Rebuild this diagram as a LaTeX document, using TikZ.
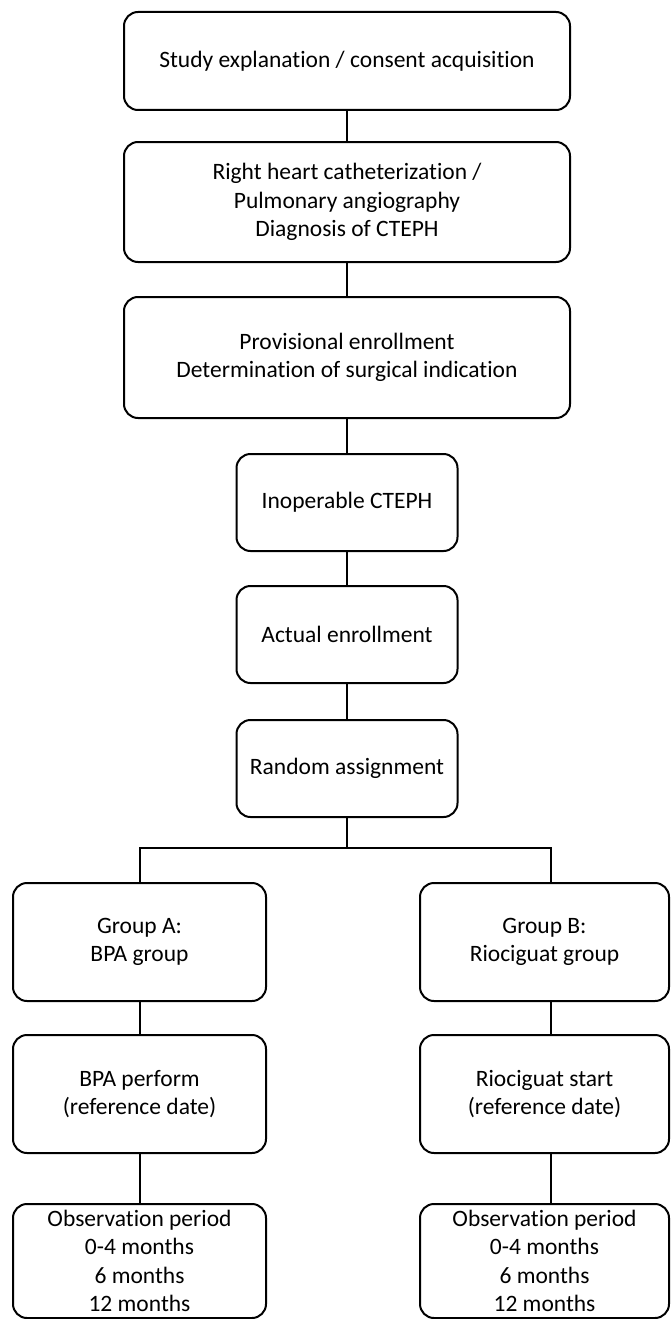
\documentclass[tikz,border=0pt]{standalone}
\usepackage{fontspec}
\setmainfont{Carlito}[RawFeature={-liga;-dlig}]
\begin{document}
\begin{tikzpicture}[x=1pt,y=-1pt,
  box/.style={draw=black, line width=2pt, rounded corners=14pt, inner sep=0pt, outer sep=0pt,
    align=center, font=\fontsize{23.5}{28.5}\selectfont, text=black},
  conn/.style={draw=black, line width=2pt}]
\useasboundingbox (0,0) rectangle (670,1319);
\clip (0,0) rectangle (670,1319);
\fill[white] (0,0) rectangle (670,1319);
\node[box, minimum width=446pt, minimum height=98pt] (b1) at (347,61) {Study explanation / consent acquisition};
\node[box, minimum width=446pt, minimum height=120pt] (b2) at (347,202) {Right heart catheterization /\\Pulmonary angiography\\Diagnosis of CTEPH};
\node[box, minimum width=446pt, minimum height=121pt] (b3) at (347,357.5) {Provisional enrollment\\Determination of surgical indication};
\node[box, minimum width=221pt, minimum height=97pt] (b4) at (347,502.5) {Inoperable CTEPH};
\node[box, minimum width=221pt, minimum height=97pt] (b5) at (347,634.5) {Actual enrollment};
\node[box, minimum width=221pt, minimum height=97pt] (b6) at (347,768.5) {Random assignment};
\node[box, minimum width=253pt, minimum height=118pt] (bA) at (139.5,942) {Group A:\\BPA group};
\node[box, minimum width=253pt, minimum height=118pt] (bA2) at (139.5,1094) {BPA perform\\(reference date)};
\node[box, minimum width=253pt, minimum height=114pt] (bA3) at (139.5,1261) {Observation period\\0-4 months\\6 months\\12 months};
\node[box, minimum width=249pt, minimum height=118pt] (bB) at (544.5,942) {Group B:\\Riociguat group};
\node[box, minimum width=249pt, minimum height=118pt] (bB2) at (544.5,1094) {Riociguat start\\(reference date)};
\node[box, minimum width=249pt, minimum height=114pt] (bB3) at (544.5,1261) {Observation period\\0-4 months\\6 months\\12 months};
\coordinate (jl) at (139.5,848);
\coordinate (jr) at (551,848);
\draw[conn] (b1) -- (b2);
\draw[conn] (b2) -- (b3);
\draw[conn] (b3) -- (b4);
\draw[conn] (b4) -- (b5);
\draw[conn] (b5) -- (b6);
\draw[conn] (b6.south) -- (b6.south |- jl);
\draw[conn] (bA.north) -- (jl) -- (jr) -- (jr |- bB.north);
\draw[conn] (bA) -- (bA2);
\draw[conn] (bA2) -- (bA3);
\draw[conn] (bB.south -| jr) -- (bB2.north -| jr);
\draw[conn] (bB2.south -| jr) -- (bB3.north -| jr);
\end{tikzpicture}
\end{document}
